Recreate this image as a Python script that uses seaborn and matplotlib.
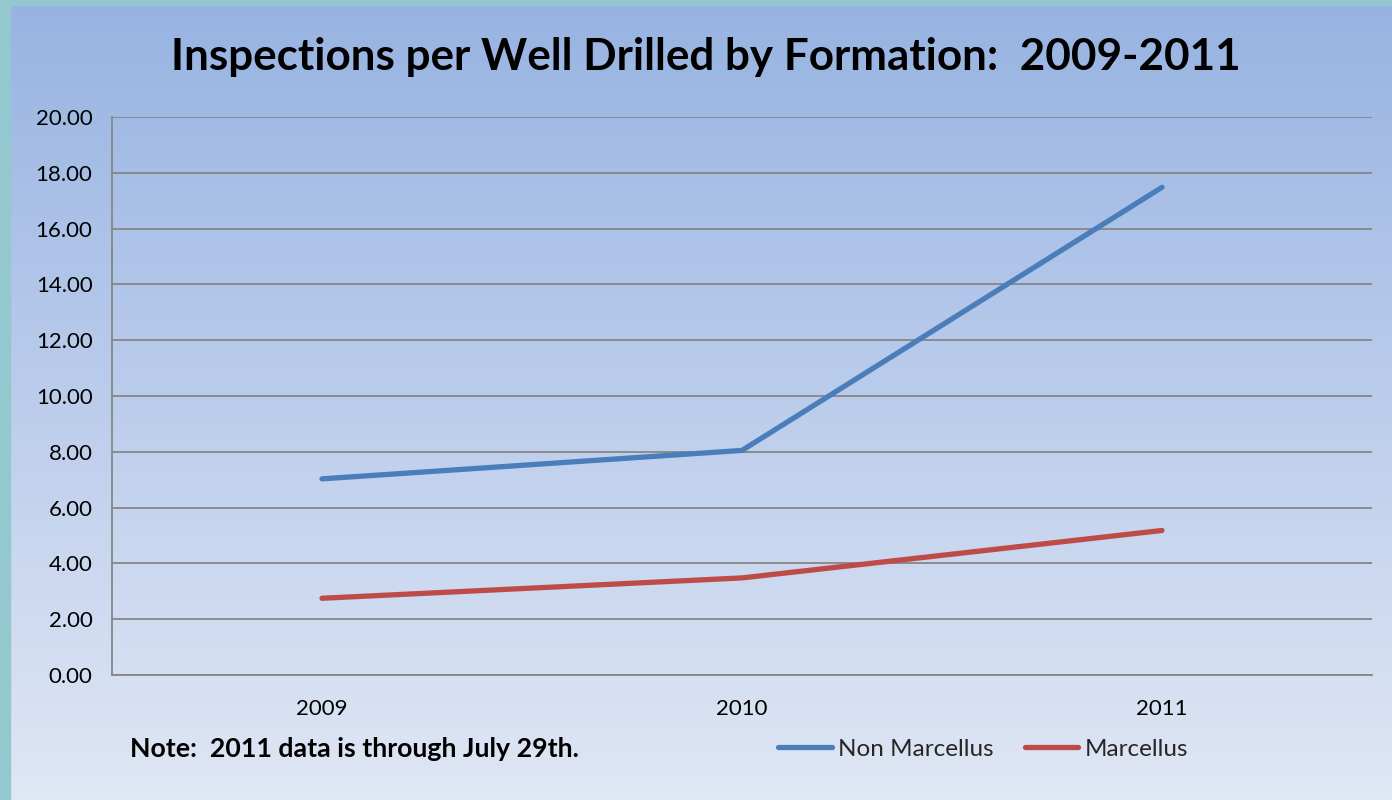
import numpy as np
import pandas as pd
import matplotlib
matplotlib.use("Agg")
import matplotlib.pyplot as plt
from matplotlib.patches import Rectangle
from matplotlib.lines import Line2D
import seaborn as sns

years = ["2009", "2010", "2011"]
non_marcellus = [7.03, 8.05, 17.48]
marcellus = [2.75, 3.48, 5.18]
series_names = ["Non Marcellus", "Marcellus"]
y_ticks = [0, 2, 4, 6, 8, 10, 12, 14, 16, 18, 20]
title = "Inspections per Well Drilled by Formation:  2009-2011"
note = "Note:  2011 data is through July 29th."

sns.set_theme(style="white")
plt.rcParams['font.family'] = ['Lato', 'DejaVu Sans']

df = pd.DataFrame({
    "Year": years * 2,
    "Value": non_marcellus + marcellus,
    "Series": [series_names[0]] * 3 + [series_names[1]] * 3,
})

W, H = 1392, 800
fig = plt.figure(figsize=(W / 100, H / 100), dpi=100)

# background gradient
bg = fig.add_axes([0, 0, 1, 1], zorder=-10)
grad = np.linspace(0, 1, 256).reshape(-1, 1)
top = np.array([0x97, 0xb3, 0xe2]) / 255
bot = np.array([0xe0, 0xe7, 0xf5]) / 255
img = top[None, None, :] * (1 - grad[:, :, None]) + bot[None, None, :] * grad[:, :, None]
bg.imshow(img, aspect="auto", extent=[0, 1, 0, 1], origin="upper")
teal = "#93c8cf"
bg.add_patch(Rectangle((0, 0), 10 / W, 1, color=teal, zorder=5))
bg.add_patch(Rectangle((0, 1 - 5 / H), 1, 5 / H, color=teal, zorder=5))
bg.set_xlim(0, 1)
bg.set_ylim(0, 1)
bg.axis("off")

ax = fig.add_axes([112 / W, 1 - 675 / H, (1372 - 112) / W, (675 - 117) / H])
ax.set_facecolor("none")
palette = {series_names[0]: "#4a7ebb", series_names[1]: "#be4b48"}
sns.lineplot(data=df, x="Year", y="Value", hue="Series", palette=palette,
             linewidth=3.8, ax=ax, legend=False, sort=False)
for ln in ax.lines:
    ln.set_solid_capstyle("round")
    ln.set_solid_joinstyle("round")

ax.set_xlim(-0.5, 2.5)
ax.set_ylim(0, 20)
ax.set_yticks(y_ticks)
ax.set_yticklabels([f"{v:.2f}" for v in y_ticks])
ax.set_xticks(range(len(years)))
ax.set_xticklabels(years)
ax.set_xticks([-0.5, 0.5, 1.5, 2.5], minor=True)
ax.tick_params(axis="x", which="major", length=0, pad=17, labelsize=16, colors="black")
ax.tick_params(axis="x", which="minor", length=8, width=1.3, color="#868686", direction="out")
ax.tick_params(axis="y", which="major", length=8, width=1.3, color="#868686",
               direction="out", pad=6, labelsize=16, labelcolor="black")
ax.yaxis.grid(True, color="#868686", linewidth=1.3)
ax.set_axisbelow(True)
for s in ["top", "right"]:
    ax.spines[s].set_visible(False)
for s in ["left", "bottom"]:
    ax.spines[s].set_color("#868686")
    ax.spines[s].set_linewidth(1.3)
ax.set_xlabel("")
ax.set_ylabel("")

fig.text(706 / W, 1 - 57 / H, title, ha="center", va="center",
         fontsize=31.7, fontweight="bold", color="black")
fig.text(130 / W, 1 - 749 / H, note, ha="left", va="center",
         fontsize=19.3, fontweight="bold", color="black")

handles = [Line2D([0], [0], color=palette[n], linewidth=3.8, solid_capstyle="round")
           for n in series_names]
fig.legend(handles, series_names, loc="center", bbox_to_anchor=(983 / W, 1 - 749 / H),
           ncol=2, frameon=False, fontsize=17.5, handlelength=2.2, handletextpad=0.25,
           columnspacing=1.3, borderpad=0, borderaxespad=0)

fig.savefig("out.png", dpi=100)
